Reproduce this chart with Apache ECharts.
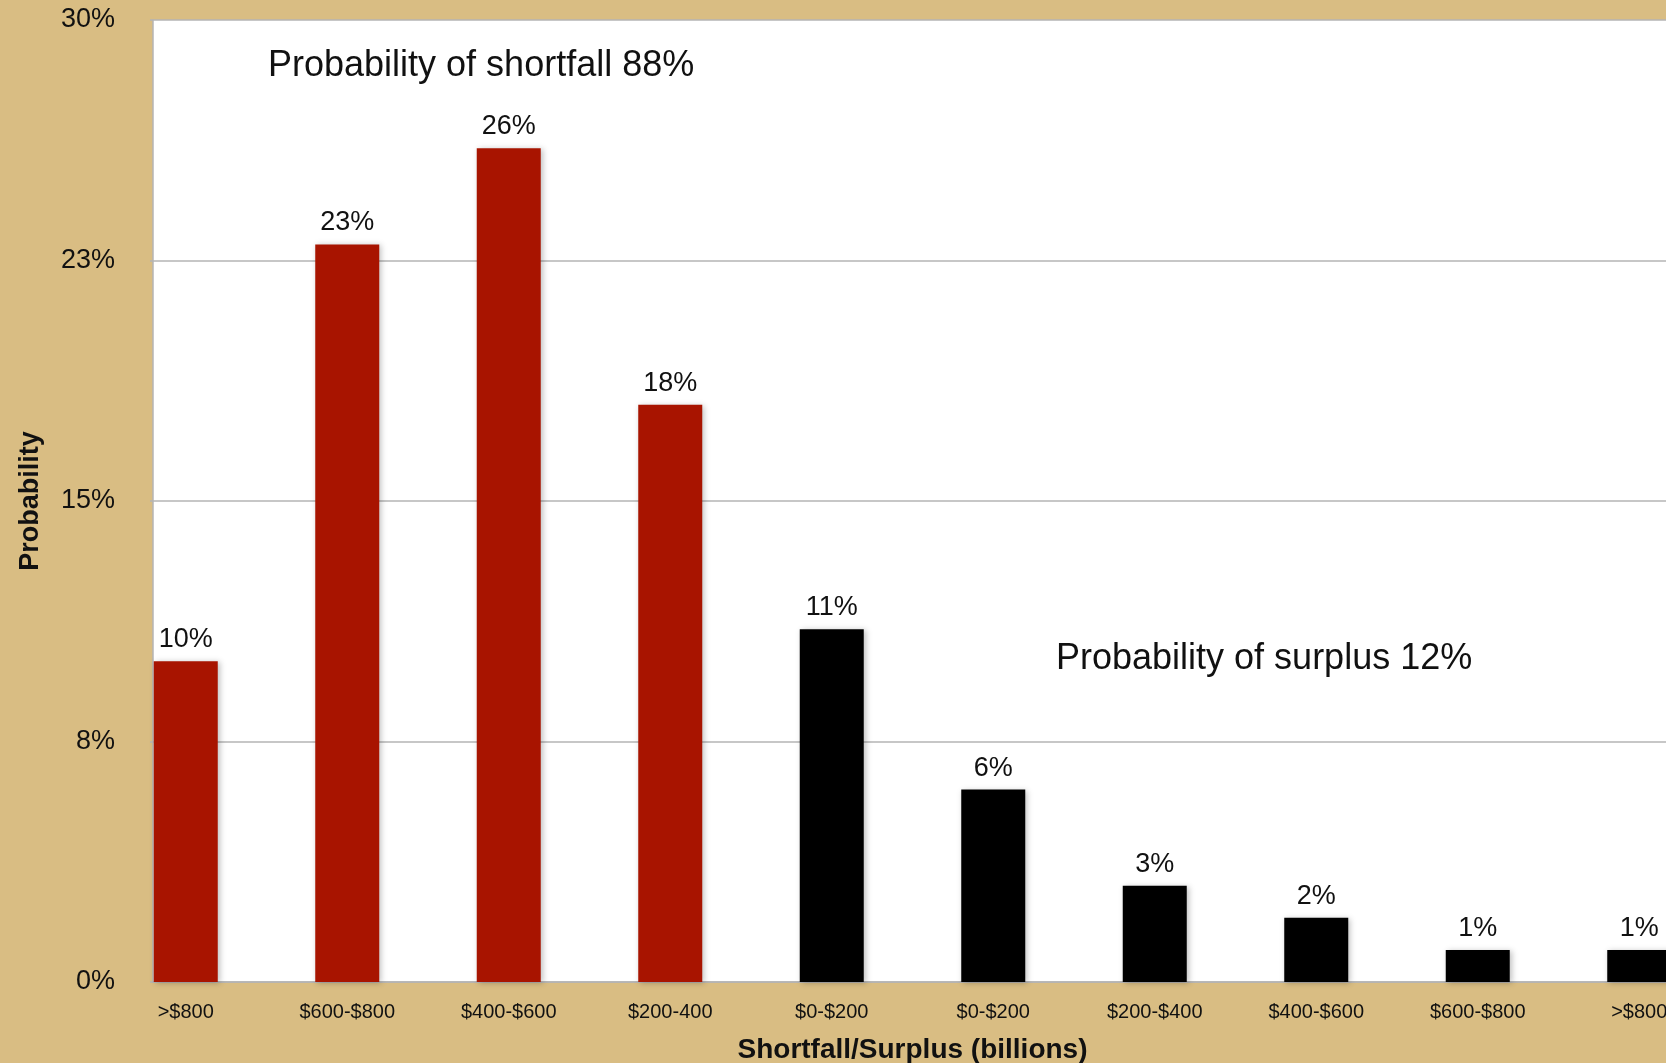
<!DOCTYPE html>
<html>
<head>
<meta charset="utf-8">
<script src="https://cdn.jsdelivr.net/npm/echarts@6/dist/echarts.min.js"></script>
<style>
  html, body { margin: 0; padding: 0; background: #d9bd83; overflow: hidden; }
  /* wider than the window: the last bar is cut by the right edge like the original */
  #chart { width: 1720px; height: 1063px; }
</style>
</head>
<body>
<div id="chart"></div>
<script>
// data
const categories = ['>$800', '$600-$800', '$400-$600', '$200-400', '$0-$200', '$0-$200', '$200-$400', '$400-$600', '$600-$800', '>$800']
const probability = [10, 23, 26, 18, 11, 6, 3, 2, 1, 1]   // percent
const isShortfall = [true, true, true, true, false, false, false, false, false, false]
const yTicks = { min: 0, max: 30, interval: 7.5 }
const shortfallNote = 'Probability of shortfall 88%'
const surplusNote = 'Probability of surplus 12%'

const RED = '#a81400'
const BLACK = '#000000'
const GRID_GRAY = '#b4b4b4'
const FONT = '"Liberation Sans", Arial, Helvetica, sans-serif'

const myChart = echarts.init(document.getElementById('chart'))

const barData = probability.map((v, i) => ({
  value: v,
  itemStyle: { color: isShortfall[i] ? RED : BLACK }
}))

const option = {
  backgroundColor: '#d9bd83',
  animation: false,
  textStyle: { fontFamily: FONT },
  grid: [
    // white plot area + y axis, ends at the window edge
    { left: 153, top: 20, right: 54, bottom: 81, outerBoundsMode: 'none', show: true, backgroundColor: '#ffffff', borderWidth: 0 },
    // bars, category bands start left of the plot area like the original
    { left: 105, top: 20, right: 0, bottom: 81, outerBoundsMode: 'none' }
  ],
  xAxis: [
    {
      gridIndex: 0,
      type: 'value',
      min: 0,
      max: 1,
      axisLine: { show: true, lineStyle: { color: GRID_GRAY, width: 1.5 } },
      axisTick: { show: false },
      axisLabel: { show: false },
      splitLine: { show: false }
    },
    {
      gridIndex: 1,
      type: 'category',
      data: categories,
      boundaryGap: true,
      axisLine: { show: false },
      axisTick: { show: false },
      axisLabel: { color: '#111', fontSize: 20, margin: 20, interval: 0, fontFamily: FONT },
      name: 'Shortfall/Surplus (billions)',
      nameLocation: 'middle',
      nameGap: 54,
      nameTextStyle: { color: '#111', fontSize: 28, fontWeight: 'bold', fontFamily: FONT }
    }
  ],
  yAxis: [
    {
      gridIndex: 0,
      type: 'value',
      min: yTicks.min,
      max: yTicks.max,
      interval: yTicks.interval,
      axisLine: { show: true, lineStyle: { color: GRID_GRAY, width: 1.5 } },
      axisTick: { show: true, length: 3, lineStyle: { color: GRID_GRAY, width: 1.5 } },
      axisLabel: {
        color: '#111',
        fontSize: 27,
        margin: 38,
        padding: [4, 0, 0, 0],
        fontFamily: FONT,
        formatter: v => Math.round(v) + '%'
      },
      splitLine: { show: true, lineStyle: { color: GRID_GRAY, width: 1.5 } },
      name: 'Probability',
      nameLocation: 'middle',
      nameRotate: 90,
      nameGap: 109,
      nameTextStyle: { color: '#111', fontSize: 27, fontWeight: 'bold', fontFamily: FONT }
    },
    {
      gridIndex: 1,
      type: 'value',
      min: yTicks.min,
      max: yTicks.max,
      show: false
    }
  ],
  series: [
    {
      type: 'bar',
      xAxisIndex: 1,
      yAxisIndex: 1,
      barWidth: 64,
      data: barData,
      itemStyle: {
        shadowBlur: 6,
        shadowColor: 'rgba(0,0,0,0.25)',
        shadowOffsetX: 2,
        shadowOffsetY: 1
      },
      label: {
        show: true,
        position: 'top',
        distance: 8,
        color: '#111',
        fontSize: 27,
        fontFamily: FONT,
        formatter: p => p.value + '%'
      }
    }
  ],
  graphic: [
    {
      type: 'text',
      x: 268,
      y: 66,
      z: 10,
      style: { text: shortfallNote, font: '36px ' + FONT, fill: '#111', verticalAlign: 'middle' }
    },
    {
      type: 'text',
      x: 1056,
      y: 659,
      z: 10,
      style: { text: surplusNote, font: '36px ' + FONT, fill: '#111', verticalAlign: 'middle' }
    }
  ]
}

myChart.setOption(option)
</script>
</body>
</html>
